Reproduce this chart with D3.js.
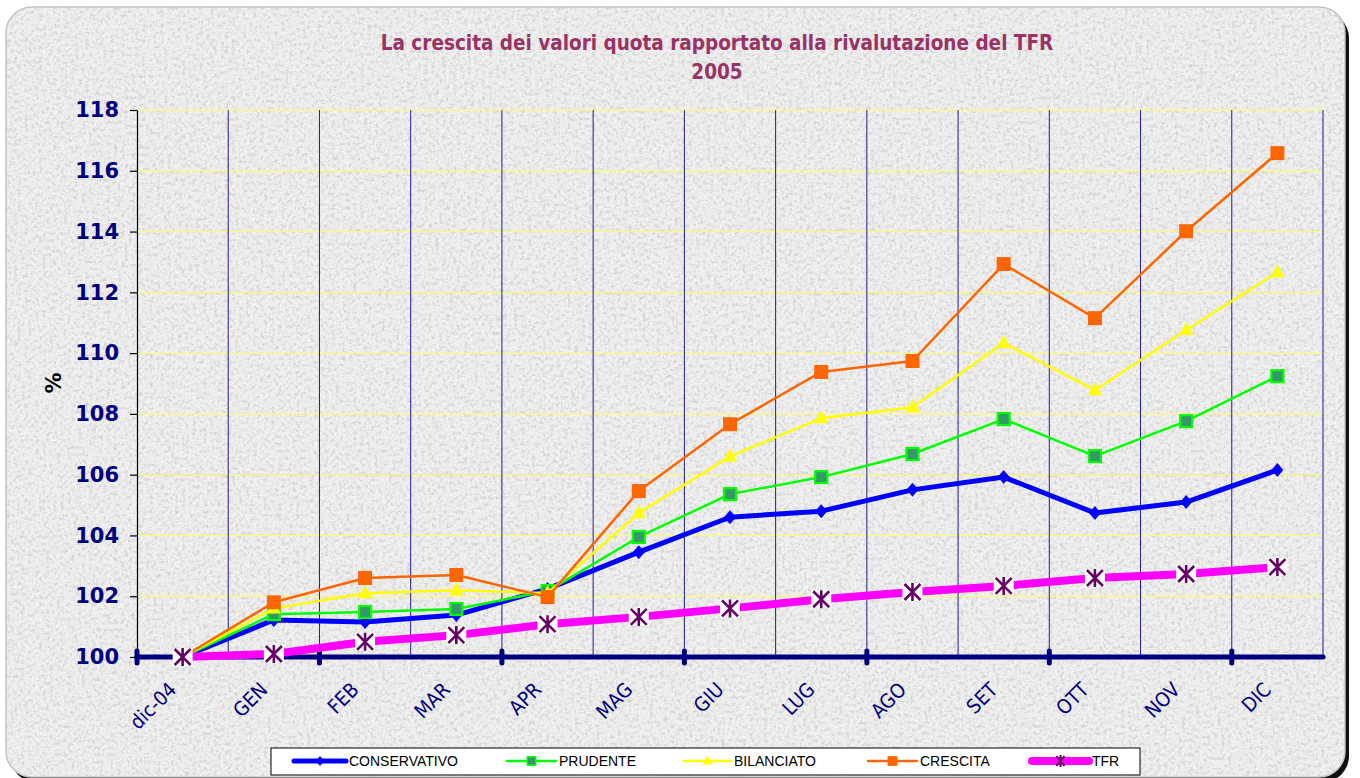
<!DOCTYPE html>
<html>
<head>
<meta charset="utf-8">
<title>Valori quota e TFR 2005</title>
<style>
  body { margin: 0; background: #ffffff; }
  svg { display: block; }
</style>
</head>
<body>
<div id="chart"></div>
<script src="https://cdn.jsdelivr.net/npm/d3@7"></script>
<script>

// ---- data ----
var months = ['dic-04','GEN','FEB','MAR','APR','MAG','GIU','LUG','AGO','SET','OTT','NOV','DIC'];
var yTicks = [100,102,104,106,108,110,112,114,116,118];
var seriesNames = ['CONSERVATIVO','PRUDENTE','BILANCIATO','CRESCITA','TFR'];

var conservativo = [100, 101.22, 101.15, 101.38, 102.24, 103.45, 104.60, 104.80, 105.50, 105.92, 104.74, 105.10, 106.15];
var prudente     = [100, 101.41, 101.48, 101.58, 102.17, 103.95, 105.36, 105.92, 106.68, 107.83, 106.61, 107.76, 109.24];
var bilanciato   = [100, 101.60, 102.10, 102.20, 102.10, 104.74, 106.60, 107.86, 108.22, 110.33, 108.78, 110.76, 112.66];
var crescita     = [100, 101.80, 102.60, 102.70, 101.97, 105.46, 107.66, 109.38, 109.74, 112.93, 111.15, 114.01, 116.58];
var tfr          = [100, 100.10, 100.50, 100.72, 101.08, 101.32, 101.60, 101.90, 102.14, 102.34, 102.60, 102.73, 102.96];

var allSeries = [conservativo, prudente, bilanciato, crescita, tfr];

// look of each series (kept apart from values)
var looks = [
  {stroke:'#0000ff', width:5,   marker:'diamond'},
  {stroke:'#00ff00', width:2.5, marker:'greenSquare'},
  {stroke:'#ffff00', width:2.5, marker:'triangle'},
  {stroke:'#ff6600', width:2.5, marker:'orangeSquare'},
  {stroke:'#ff00ff', width:8,   marker:'star'}
];

var width = 1360, height = 778;
var plot = {left:137, right:1323, top:110, bottom:657};

var svg = d3.select('#chart').append('svg')
  .attr('width', width)
  .attr('height', height);

var defs = svg.append('defs');

// granite paper texture
var f = defs.append('filter').attr('id','granite')
  .attr('x',0).attr('y',0).attr('width','100%').attr('height','100%');
f.append('feTurbulence')
  .attr('type','fractalNoise')
  .attr('baseFrequency',0.28)
  .attr('numOctaves',3)
  .attr('seed',11)
  .attr('result','noise');
f.append('feColorMatrix').attr('in','noise').attr('type','matrix')
  .attr('values','0 0 0 0 0.62  0 0 0 0 0.61  0 0 0 0 0.61  3.4 0 0 0 -1.55');

var f2 = defs.append('filter').attr('id','speckle')
  .attr('x',0).attr('y',0).attr('width','100%').attr('height','100%');
f2.append('feTurbulence')
  .attr('type','fractalNoise')
  .attr('baseFrequency',0.6)
  .attr('numOctaves',2)
  .attr('seed',3)
  .attr('result','noise');
f2.append('feColorMatrix').attr('in','noise').attr('type','matrix')
  .attr('values','0 0 0 0 1  0 0 0 0 1  0 0 0 0 1  3 0 0 0 -1.4');

defs.append('clipPath').attr('id','frameClip')
  .append('rect')
  .attr('x',6).attr('y',7).attr('width',1339).attr('height',770)
  .attr('rx',26).attr('ry',26);

// frame shadow + frame
svg.append('rect')
  .attr('x',10).attr('y',12).attr('width',1339).attr('height',770)
  .attr('rx',26).attr('ry',26)
  .attr('fill','#111111');

svg.append('rect')
  .attr('x',6).attr('y',7).attr('width',1339).attr('height',770)
  .attr('rx',26).attr('ry',26)
  .attr('fill','#ececec');

svg.append('rect')
  .attr('x',6).attr('y',7).attr('width',1339).attr('height',770)
  .attr('clip-path','url(#frameClip)')
  .attr('filter','url(#granite)')
  .attr('opacity',0.8);

svg.append('rect')
  .attr('x',6).attr('y',7).attr('width',1339).attr('height',770)
  .attr('clip-path','url(#frameClip)')
  .attr('filter','url(#speckle)')
  .attr('opacity',0.7);

svg.append('rect')
  .attr('x',6).attr('y',7).attr('width',1339).attr('height',770)
  .attr('rx',26).attr('ry',26)
  .attr('fill','none')
  .attr('stroke','#c4c4c4')
  .attr('stroke-width',1.5);

// ---- title ----
svg.append('text')
  .attr('x', 717).attr('y', 50)
  .attr('text-anchor','middle')
  .attr('font-family','"DejaVu Sans Condensed", "DejaVu Sans", sans-serif')
  .attr('font-weight','bold')
  .attr('font-size', 20.5)
  .attr('fill','#993366')
  .text('La crescita dei valori quota rapportato alla rivalutazione del TFR');

svg.append('text')
  .attr('x', 717).attr('y', 79)
  .attr('text-anchor','middle')
  .attr('font-family','"DejaVu Sans Condensed", "DejaVu Sans", sans-serif')
  .attr('font-weight','bold')
  .attr('font-size', 20.5)
  .attr('fill','#993366')
  .text('2005');

// ---- scales ----
var x = d3.scaleBand().domain(months).range([plot.left, plot.right]).paddingInner(0).paddingOuter(0);
var y = d3.scaleLinear().domain([100,118]).range([plot.bottom, plot.top]);
var cx = function(m){ return x(m) + x.bandwidth()/2; };

// gridlines
var grid = svg.append('g');
grid.selectAll('.hgrid')
  .data(yTicks.filter(function(d){ return d > 100; }))
  .enter().append('line')
  .attr('class','hgrid')
  .attr('x1', plot.left).attr('x2', plot.right)
  .attr('y1', function(d){ return y(d); })
  .attr('y2', function(d){ return y(d); })
  .attr('stroke','#ffff66')
  .attr('stroke-width',1);

var bounds = months.map(function(m){ return x(m) + x.bandwidth(); });
grid.selectAll('.vgrid')
  .data(bounds)
  .enter().append('line')
  .attr('class','vgrid')
  .attr('x1', function(d){ return d; })
  .attr('x2', function(d){ return d; })
  .attr('y1', plot.top).attr('y2', plot.bottom)
  .attr('stroke','#1f1f90')
  .attr('stroke-width',1);

// y axis
var yAxis = svg.append('g')
  .attr('transform','translate(' + plot.left + ',0)')
  .call(d3.axisLeft(y).tickValues(yTicks).tickSize(7).tickPadding(11).tickSizeOuter(0));
yAxis.select('.domain').attr('stroke','#000000').attr('stroke-width',1.2);
yAxis.selectAll('.tick line').attr('stroke','#000000').attr('stroke-width',1.2);
yAxis.selectAll('.tick text')
  .attr('font-family','"DejaVu Sans", Verdana, sans-serif')
  .attr('font-weight','bold')
  .attr('font-size', 21)
  .attr('fill','#000080');

svg.append('text')
  .attr('transform','translate(61,383) rotate(-90)')
  .attr('text-anchor','middle')
  .attr('font-family','"DejaVu Sans", Verdana, sans-serif')
  .attr('font-weight','bold')
  .attr('font-size', 21)
  .attr('fill','#000000')
  .text('%');

// x axis (thick navy line at 100)
svg.append('line')
  .attr('x1', plot.left).attr('x2', plot.right)
  .attr('y1', y(100)).attr('y2', y(100))
  .attr('stroke','#000080')
  .attr('stroke-width',5)
  .attr('stroke-linecap','round');

var majorTicks = [plot.left].concat(bounds.filter(function(d,i){ return i % 2 === 1; }));
svg.selectAll('.xtick')
  .data(majorTicks)
  .enter().append('line')
  .attr('class','xtick')
  .attr('x1', function(d){ return d; })
  .attr('x2', function(d){ return d; })
  .attr('y1', y(100) - 6).attr('y2', y(100) + 6)
  .attr('stroke','#000080')
  .attr('stroke-width',5)
  .attr('stroke-linecap','round');

svg.selectAll('.xlabel')
  .data(months)
  .enter().append('text')
  .attr('class','xlabel')
  .attr('transform', function(m){ return 'translate(' + (cx(m) - 5) + ',691) rotate(-45)'; })
  .attr('text-anchor','end')
  .attr('font-family','"DejaVu Sans Condensed", "DejaVu Sans", sans-serif')
  .attr('font-size', 20)
  .attr('fill','#000080')
  .text(function(m){ return m; });

// ---- markers ----
function drawMarker(g, kind, px, py){
  if(kind === 'diamond'){
    g.append('path')
      .attr('d','M' + px + ',' + (py-7) + 'L' + (px+6) + ',' + py + 'L' + px + ',' + (py+7) + 'L' + (px-6) + ',' + py + 'Z')
      .attr('fill','#0000ff');
  } else if(kind === 'greenSquare'){
    g.append('rect')
      .attr('x', px-6).attr('y', py-6).attr('width',12).attr('height',12)
      .attr('fill','#339966').attr('stroke','#00ff00').attr('stroke-width',2.2);
  } else if(kind === 'triangle'){
    g.append('path')
      .attr('d','M' + px + ',' + (py-8) + 'L' + (px+7) + ',' + (py+5) + 'L' + (px-7) + ',' + (py+5) + 'Z')
      .attr('fill','#ffff00');
  } else if(kind === 'orangeSquare'){
    g.append('rect')
      .attr('x', px-7).attr('y', py-7).attr('width',14).attr('height',14)
      .attr('fill','#ff6600');
  } else if(kind === 'star'){
    g.append('rect')
      .attr('x', px-10).attr('y', py-9).attr('width',20).attr('height',18)
      .attr('fill','#ffffff');
    var s = 9, d = 8;
    g.append('path')
      .attr('d','M' + px + ',' + (py-s) + 'L' + px + ',' + (py+s) +
                'M' + (px-d) + ',' + (py-d) + 'L' + (px+d) + ',' + (py+d) +
                'M' + (px+d) + ',' + (py-d) + 'L' + (px-d) + ',' + (py+d))
      .attr('stroke','#660066')
      .attr('stroke-width',2.6)
      .attr('fill','none');
  }
}

// ---- series ----
var line = d3.line()
  .x(function(d,i){ return cx(months[i]); })
  .y(function(d){ return y(d); });

allSeries.forEach(function(values, k){
  var look = looks[k];
  var g = svg.append('g').attr('class','series');
  g.append('path')
    .datum(values)
    .attr('d', line)
    .attr('fill','none')
    .attr('stroke', look.stroke)
    .attr('stroke-width', look.width)
    .attr('stroke-linejoin','round');
  values.forEach(function(v, i){
    drawMarker(g, look.marker, cx(months[i]), y(v));
  });
});

// ---- legend ----
var legend = svg.append('g');
legend.append('rect')
  .attr('x',271).attr('y',748).attr('width',869).attr('height',27)
  .attr('fill','#ffffff')
  .attr('stroke','#000000')
  .attr('stroke-width',1);

var legendX = [294, 507, 684, 868, 1032];
var legendLen = [52, 49, 47, 49, 57];
seriesNames.forEach(function(name, k){
  var look = looks[k];
  var lg = legend.append('g');
  var x0 = legendX[k], x1 = legendX[k] + legendLen[k], ly = 761;
  lg.append('line')
    .attr('x1', x0).attr('x2', x1).attr('y1', ly).attr('y2', ly)
    .attr('stroke', look.stroke)
    .attr('stroke-width', look.width)
    .attr('stroke-linecap','round');
  var mg = lg.append('g')
    .attr('transform','translate(' + ((x0+x1)/2) + ',' + ly + ') scale(0.7) translate(' + (-(x0+x1)/2) + ',' + (-ly) + ')');
  if(look.marker === 'star'){
    var s = 6, px = (x0+x1)/2;
    lg.append('path')
      .attr('d','M' + px + ',' + (ly-s) + 'L' + px + ',' + (ly+s) +
                'M' + (px-4) + ',' + (ly-5) + 'L' + (px+4) + ',' + (ly+5) +
                'M' + (px+4) + ',' + (ly-5) + 'L' + (px-4) + ',' + (ly+5))
      .attr('stroke','#660066').attr('stroke-width',2).attr('fill','none');
  } else {
    drawMarker(mg, look.marker, (x0+x1)/2, ly);
  }
  lg.append('text')
    .attr('x', x1 + 3).attr('y', 766)
    .attr('font-family','"Liberation Sans Narrow", "Liberation Sans", Arial, sans-serif')
    .attr('font-size', 14)
    .attr('fill','#000000')
    .text(name);
});

</script>
</body>
</html>
